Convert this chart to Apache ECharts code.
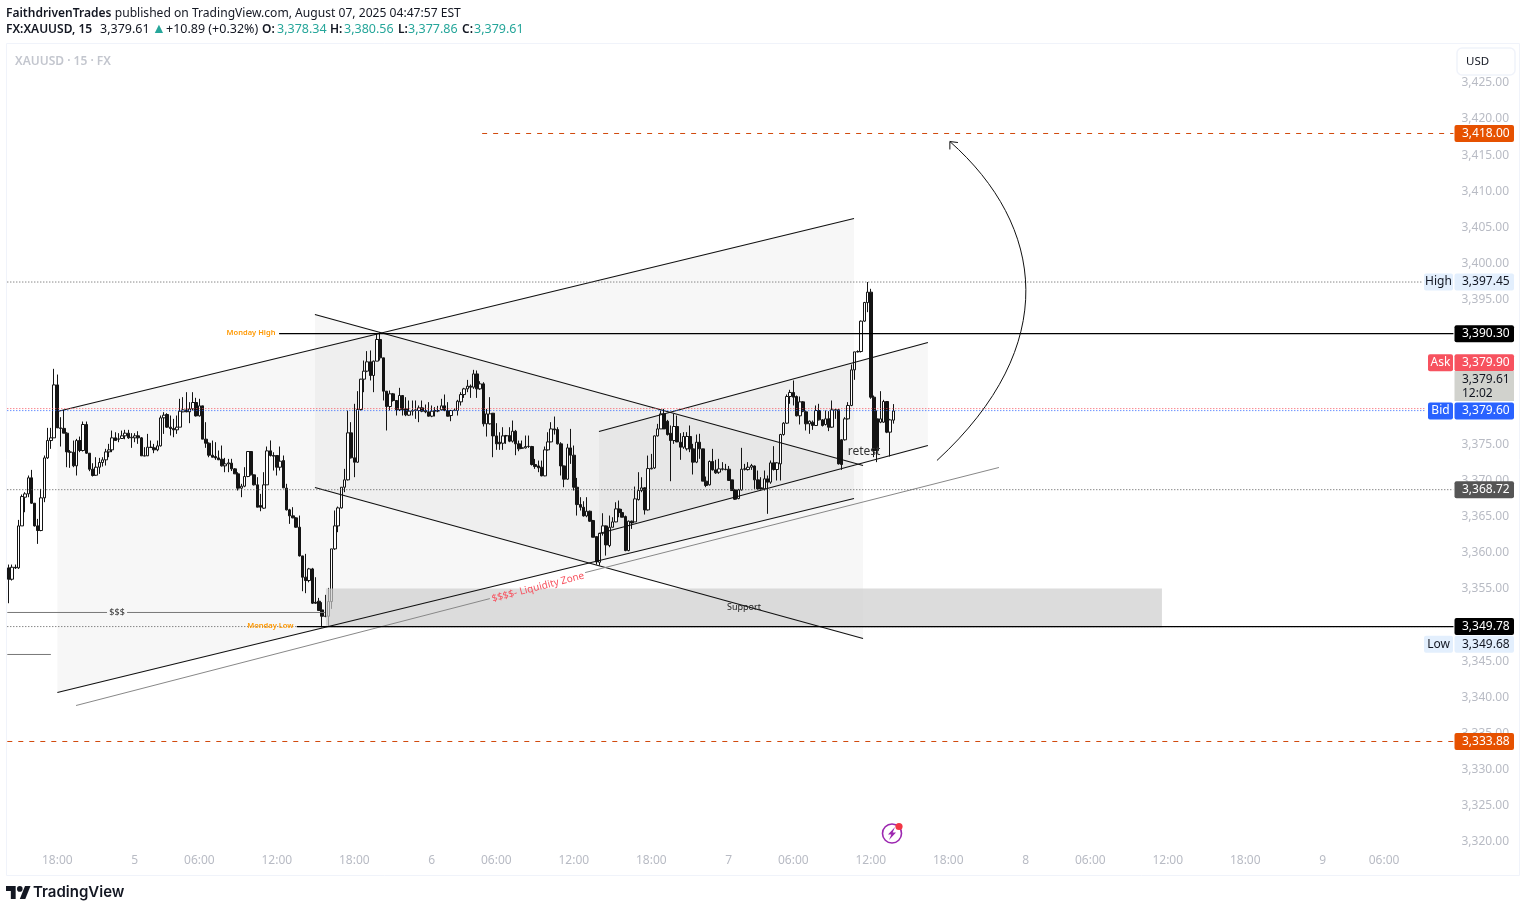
<!DOCTYPE html>
<html><head><meta charset="utf-8">
<style>html,body{margin:0;padding:0;background:#fff}#c{width:1526px;height:911px}</style>
<script src="https://cdn.jsdelivr.net/npm/echarts@6/dist/echarts.min.js"></script>
</head><body><div id="c"></div>
<script>
// 15-minute XAUUSD candles: [open, close, low, high]
const candles=[
[3357.90,3356.33,3353.01,3358.36],[3356.33,3357.99,3356.15,3358.36],[3357.99,3357.90,3357.76,3358.36],[3357.90,3363.71,3357.76,3364.54],[3363.71,3367.77,3363.71,3368.05],
[3367.68,3368.14,3365.60,3368.37],[3368.14,3370.36,3367.68,3370.68],[3370.36,3366.85,3366.76,3371.46],[3366.85,3363.71,3363.62,3366.85],[3363.71,3363.07,3361.22,3364.68],
[3363.07,3367.59,3362.97,3368.83],[3367.59,3373.12,3366.99,3373.45],[3373.12,3375.52,3372.98,3377.27],[3375.52,3375.89,3374.37,3377.27],[3375.89,3383.22,3375.89,3385.44],
[3383.22,3377.27,3377.27,3384.65],[3377.27,3377.20,3374.69,3378.75],[3377.20,3376.54,3376.54,3379.76],[3376.54,3373.95,3371.83,3376.67],[3373.95,3373.90,3371.74,3374.20],
[3373.90,3372.02,3371.83,3375.52],[3372.02,3375.52,3370.68,3375.75],[3375.52,3374.14,3373.91,3376.07],[3374.14,3377.74,3374.00,3378.15],[3377.74,3373.77,3373.68,3378.15],
[3373.77,3371.55,3371.28,3373.77],[3371.55,3370.68,3370.54,3372.38],[3370.72,3371.83,3370.63,3373.21],[3371.83,3372.48,3370.91,3373.12],[3372.48,3372.85,3371.92,3373.21],
[3372.85,3373.95,3372.06,3374.37],[3373.95,3374.23,3373.21,3375.06],[3374.23,3375.89,3373.91,3376.90],[3375.89,3375.52,3375.52,3376.67],[3375.70,3375.75,3375.29,3376.54],
[3375.80,3376.17,3375.75,3376.90],[3376.17,3376.54,3375.70,3377.00],[3376.54,3375.89,3375.75,3377.00],[3375.89,3375.98,3374.51,3376.54],[3375.89,3376.17,3375.29,3376.54],
[3376.17,3375.89,3375.06,3376.81],[3375.89,3373.40,3373.40,3376.00],[3373.40,3373.38,3373.38,3374.60],[3373.40,3374.60,3373.38,3376.44],[3374.60,3374.55,3374.51,3375.52],
[3374.51,3374.23,3373.77,3375.06],[3374.23,3374.78,3374.04,3375.52],[3374.78,3378.66,3374.69,3378.98],[3378.66,3379.03,3376.44,3379.44],[3379.12,3377.37,3377.27,3379.30],
[3377.37,3377.18,3376.21,3378.98],[3377.18,3377.00,3375.98,3378.52],[3377.00,3377.37,3376.44,3378.98],[3377.37,3379.58,3377.37,3381.29],[3379.49,3379.76,3379.44,3381.52],
[3379.76,3379.49,3379.44,3382.21],[3379.49,3379.90,3377.92,3380.83],[3379.90,3380.78,3379.67,3382.21],[3380.78,3378.93,3378.84,3381.43],[3378.93,3380.32,3378.84,3381.29],
[3380.32,3375.71,3375.71,3380.32],[3375.71,3375.15,3374.51,3378.06],[3375.15,3373.49,3373.21,3375.26],[3373.49,3373.21,3373.21,3375.52],[3373.30,3373.12,3372.85,3375.29],
[3373.12,3372.85,3372.85,3374.14],[3372.94,3372.02,3371.92,3374.83],[3372.02,3372.29,3371.14,3373.12],[3372.29,3372.43,3371.14,3372.98],[3372.39,3371.60,3371.30,3372.99],
[3371.60,3370.91,3370.91,3371.70],[3370.91,3368.93,3368.60,3371.14],[3368.93,3369.20,3367.68,3369.53],[3369.20,3370.54,3369.06,3371.83],[3370.54,3374.00,3370.45,3374.05],
[3374.00,3370.77,3370.68,3374.05],[3370.77,3369.39,3369.30,3370.82],[3369.39,3366.30,3366.30,3370.45],[3366.53,3366.30,3365.74,3368.14],[3366.16,3369.39,3366.07,3371.14],
[3369.39,3374.09,3369.39,3374.69],[3374.09,3373.45,3373.31,3375.53],[3373.45,3373.36,3371.37,3373.90],[3373.45,3371.83,3370.68,3373.45],[3371.83,3372.66,3371.37,3374.69],
[3372.75,3368.97,3368.93,3373.45],[3368.93,3365.93,3365.84,3369.53],[3365.93,3365.10,3363.99,3366.07],[3365.10,3364.82,3364.77,3366.30],[3364.82,3363.53,3363.44,3364.91],
[3363.53,3359.56,3359.47,3365.14],[3359.56,3356.61,3354.67,3359.56],[3356.61,3356.15,3354.40,3359.84],[3356.15,3357.76,3355.90,3357.90],[3357.76,3353.01,3352.92,3357.90],
[3353.15,3353.01,3352.92,3356.61],[3353.29,3352.00,3352.00,3353.75],[3352.09,3351.21,3349.68,3353.15],[3351.21,3351.20,3351.07,3354.17],[3351.21,3353.24,3349.78,3355.13],
[3353.24,3360.53,3352.23,3360.53],[3360.53,3363.71,3360.39,3365.84],[3363.71,3366.20,3362.84,3366.39],[3366.20,3369.06,3366.10,3369.06],[3369.06,3370.08,3368.37,3371.60],
[3370.08,3376.58,3369.99,3379.67],[3376.58,3373.13,3373.03,3378.06],[3373.13,3372.52,3370.45,3380.60],[3372.52,3379.81,3372.43,3382.35],[3379.81,3384.01,3379.67,3384.06],
[3384.01,3385.12,3382.21,3386.59],[3385.12,3386.41,3384.98,3387.89],[3386.41,3384.52,3383.83,3387.98],[3384.52,3386.50,3382.21,3386.59],[3386.50,3389.50,3386.50,3390.28],
[3389.50,3386.96,3386.59,3390.50],[3386.96,3382.35,3381.06,3386.96],[3382.35,3380.23,3376.91,3382.35],[3380.23,3381.98,3379.67,3382.44],[3381.98,3381.06,3380.90,3382.10],
[3381.06,3379.77,3378.98,3381.06],[3379.77,3381.75,3379.60,3382.81],[3381.75,3379.77,3378.98,3381.75],[3379.90,3379.08,3378.89,3381.52],[3379.03,3379.58,3378.94,3381.06],
[3379.58,3379.67,3378.98,3381.06],[3379.67,3379.77,3378.52,3381.06],[3379.67,3380.04,3378.06,3380.37],[3380.04,3379.58,3379.44,3381.06],[3379.67,3379.49,3379.30,3380.50],
[3379.49,3378.89,3378.85,3380.83],[3378.89,3379.58,3378.75,3380.37],[3379.60,3379.67,3378.85,3380.14],[3379.67,3379.60,3379.44,3380.32],[3379.77,3380.32,3379.67,3381.29],
[3380.32,3379.67,3379.58,3381.89],[3379.67,3378.89,3378.85,3380.83],[3378.98,3379.67,3378.19,3379.76],[3379.67,3379.72,3379.60,3380.00],[3379.67,3380.96,3378.98,3381.15],
[3380.87,3381.88,3380.36,3382.21],[3381.88,3382.67,3381.42,3382.81],[3382.67,3383.04,3382.21,3383.91],[3383.04,3382.90,3381.42,3383.27],[3382.90,3384.74,3382.67,3385.30],
[3384.74,3382.67,3381.42,3385.21],[3382.67,3383.36,3382.53,3383.73],[3383.36,3377.83,3377.46,3383.59],[3377.83,3379.21,3376.07,3379.90],[3377.83,3379.21,3377.73,3381.52],
[3379.30,3376.16,3373.21,3379.30],[3376.16,3375.06,3374.23,3377.92],[3375.29,3375.06,3374.23,3376.67],[3375.15,3376.16,3374.23,3377.36],[3376.16,3376.20,3375.06,3376.30],
[3376.20,3375.43,3375.29,3377.36],[3375.43,3376.81,3375.24,3378.29],[3376.81,3375.06,3373.49,3376.99],[3375.06,3374.37,3374.04,3375.52],[3374.51,3374.46,3374.37,3375.52],
[3374.50,3374.69,3374.41,3376.21],[3374.69,3374.72,3374.50,3376.21],[3374.69,3372.20,3372.06,3374.78],[3372.20,3371.92,3371.60,3372.98],[3372.01,3371.74,3371.14,3372.75],
[3371.83,3370.63,3370.58,3372.75],[3370.63,3374.23,3370.58,3374.69],[3374.23,3375.33,3374.13,3376.67],[3375.33,3377.13,3375.29,3378.06],[3377.13,3377.00,3376.35,3378.84],
[3377.04,3375.06,3374.97,3377.36],[3375.06,3372.01,3370.68,3375.29],[3372.01,3370.17,3369.06,3372.06],[3370.17,3374.50,3370.08,3375.06],[3374.50,3373.49,3372.29,3377.13],
[3373.49,3369.06,3368.60,3374.83],[3369.06,3366.66,3365.14,3370.35],[3366.66,3366.29,3365.83,3367.68],[3366.29,3365.09,3365.00,3367.12],[3365.09,3365.74,3364.91,3367.68],
[3365.74,3364.36,3364.26,3365.83],[3364.45,3362.14,3362.14,3364.54],[3362.23,3358.73,3358.36,3362.23],[3358.68,3362.69,3358.22,3362.69],[3362.69,3363.71,3362.37,3365.46],
[3363.71,3361.08,3359.60,3363.76],[3360.99,3363.52,3360.76,3365.14],[3363.52,3364.26,3363.52,3364.91],[3364.26,3366.06,3364.22,3366.98],[3366.06,3365.55,3364.91,3367.22],
[3365.55,3364.91,3364.91,3366.06],[3365.00,3360.30,3360.20,3365.14],[3360.30,3364.36,3360.20,3364.45],[3364.36,3364.12,3363.29,3364.45],[3364.26,3367.45,3364.26,3369.15],
[3367.35,3368.60,3367.22,3371.14],[3368.60,3368.97,3368.37,3370.44],[3368.97,3365.92,3365.28,3369.06],[3365.92,3371.64,3365.83,3373.44],[3371.60,3371.70,3371.55,3373.67],
[3371.73,3376.16,3371.60,3376.20],[3376.16,3377.13,3376.07,3377.83],[3377.13,3379.21,3377.13,3379.67],[3379.21,3377.13,3377.13,3379.90],[3378.19,3376.35,3376.21,3378.38],
[3376.53,3375.52,3369.89,3377.60],[3375.52,3377.46,3375.06,3379.21],[3377.46,3375.33,3375.29,3378.98],[3375.29,3374.60,3372.85,3376.54],[3374.60,3376.08,3374.37,3376.68],
[3374.37,3376.08,3374.14,3376.68],[3376.08,3374.37,3373.91,3377.60],[3374.37,3372.53,3370.82,3375.06],[3372.53,3375.29,3372.39,3376.35],[3375.29,3374.37,3372.99,3376.45],
[3374.37,3369.90,3369.90,3374.37],[3369.90,3369.30,3369.07,3370.54],[3369.39,3372.62,3369.30,3372.76],[3372.62,3371.46,3371.37,3374.37],[3371.46,3371.05,3370.91,3372.85],
[3371.14,3371.60,3370.91,3372.99],[3371.60,3371.55,3371.37,3372.53],[3371.55,3371.50,3371.40,3372.29],[3371.55,3370.00,3369.99,3372.00],[3370.08,3368.60,3368.60,3370.08],
[3368.69,3367.40,3367.31,3368.83],[3367.49,3368.69,3367.40,3368.83],[3368.69,3371.55,3368.60,3374.51],[3371.55,3371.60,3371.37,3372.29],[3371.50,3371.83,3371.37,3372.53],
[3371.83,3372.06,3371.46,3372.29],[3372.00,3370.08,3368.83,3372.06],[3370.08,3368.83,3368.69,3371.37],[3368.97,3368.83,3368.60,3370.45],[3368.83,3370.22,3368.60,3371.37],
[3370.22,3369.76,3365.38,3370.68],[3369.76,3372.43,3369.53,3372.76],[3372.43,3371.51,3371.37,3374.74],[3371.51,3372.43,3369.99,3372.53],[3372.29,3376.35,3369.99,3376.45],
[3376.35,3377.92,3376.20,3378.06],[3377.92,3381.61,3377.83,3381.89],[3381.61,3382.17,3380.60,3382.54],[3382.17,3381.52,3380.37,3383.83],[3381.61,3378.94,3378.85,3381.75],
[3378.94,3380.87,3377.74,3381.61],[3380.87,3379.58,3379.44,3380.97],[3379.49,3377.83,3376.91,3379.68],[3377.83,3378.20,3376.45,3378.29],[3378.06,3377.60,3377.00,3378.29],
[3377.60,3379.67,3377.55,3380.37],[3379.67,3378.38,3378.29,3380.60],[3378.38,3377.60,3377.46,3378.48],[3377.74,3378.52,3377.60,3379.68],[3378.52,3377.37,3376.82,3379.58],
[3377.37,3379.77,3377.28,3381.06],[3379.77,3379.72,3378.52,3379.90],[3379.77,3372.29,3372.20,3379.86],[3375.62,3372.20,3371.46,3375.70],[3375.62,3378.52,3375.52,3378.75],
[3378.52,3380.37,3378.43,3380.83],[3380.37,3385.30,3380.27,3386.04],[3385.30,3387.79,3383.92,3387.79],[3387.79,3387.84,3387.70,3388.00],[3387.84,3392.04,3387.70,3392.13],
[3392.04,3394.62,3391.95,3394.70],[3394.60,3396.05,3393.28,3397.45],[3396.05,3381.52,3381.29,3396.51],[3381.52,3374.14,3373.22,3381.75],[3378.52,3374.14,3372.53,3379.68],
[3378.06,3378.52,3377.92,3382.35],[3378.06,3380.92,3377.97,3381.15],[3380.92,3376.68,3376.54,3380.97],[3376.68,3378.38,3373.31,3378.52],[3378.34,3379.61,3377.86,3380.56]
];
const barSlots = 448;                     // bars that fit the pane, including empty future bars
const tickBars = [15,39,59,83,107,131,151,175,199,223,243,267,291,315,335,359,383,407,426];
const tickLabels = ['18:00','5','06:00','12:00','18:00','6','06:00','12:00','18:00','7','06:00','12:00','18:00','8','06:00','12:00','18:00','9','06:00'];
const priceMin = 3315, priceMax = 3430, priceStep = 5;

// drawings in chart coordinates: [bar index, price]
const bigChannelTop    = [[15,3379.54],[261.8,3406.24]];
const bigChannelBottom = [[15,3340.66],[261.8,3367.50]];
const fallChannelTop   = [[94.8,3392.96],[264.6,3372.07]];
const fallChannelBottom= [[94.8,3369.02],[264.6,3348.13]];
const riseChannelTop   = [[182.8,3376.77],[284.7,3389.08]];
const riseChannelBottom= [[182.8,3362.66],[284.7,3374.83]];
const trendLow1 = [[20.8,3338.86],[149,3353.65]];
const trendLow2 = [[178.5,3357.25],[306.7,3371.79]];
const supportBox = [[98.2,3355.05],[357.2,3349.65]];
const moneyLineA = [[-0.5,3351.73],[30.4,3351.73]];
const moneyLineB = [[36.6,3351.73],[97.9,3351.73]];
const shortLine  = [[-0.5,3345.92],[13,3345.92]];
const mondayHigh = [[83.7,3390.30],[447.5,3390.30]];
const mondayLow  = [[89.2,3349.78],[447.5,3349.78]];
const sessionHigh= [[-0.5,3397.45],[437.8,3397.45]];
const askLine    = [[-0.5,3379.94],[439,3379.94]];
const bidLine    = [[-0.5,3379.66],[439,3379.66]];
const prevClose  = [[-0.5,3368.72],[447.5,3368.72]];
const lowDotted  = [[-0.5,3349.78],[447.5,3349.78]];
const targetUp   = [[146.6,3418.00],[447.5,3418.00]];
const targetDown = [[-0.5,3333.88],[447.5,3333.88]];
const arrowCurve = [[287.5,3372.76],[326.2,3388.67],[320.9,3405.27],[291.5,3416.89]];
const arrowHead  = [[294,3416.75],[291.5,3416.89],[291.5,3415.79]];
const noteTexts = ['$$$','Monday High','Monday Low','Support','retest','$$$$- Liquidity Zone'];
const notePlaces= [[33.5,3351.73],[75,3390.47],[81,3349.93],[227.7,3352.42],[264.9,3374.0],[163.9,3355.2]];
const tagTexts  = ['3,418.00','3,390.30','3,379.90','3,379.60','3,368.72','3,349.78','3,349.68','3,397.45','3,333.88'];
const tagPrices = [3418.00,3390.30,3379.90,3379.60,3368.72,3349.78,3349.68,3397.45,3333.88];
const tagNames  = ['','','Ask','Bid','','','Low','High',''];
const quoteTexts = ['FX:XAUUSD, 15','3,379.61','▲','+10.89 (+0.32%)','O:','3,378.34','H:','3,380.56','L:','3,377.86','C:','3,379.61'];

const FONT='"Noto Sans",sans-serif';
const FILL='rgba(0,0,0,0.032)';
const tagStyle=[
 {bg:'#e65100',fg:'#fff',dy:0},{bg:'#000',fg:'#fff',dy:0},{bg:'#f7525f',fg:'#fff',dy:-46},{bg:'#2962ff',fg:'#fff',dy:0},
 {bg:'#555',fg:'#fff',dy:0},{bg:'#000',fg:'#fff',dy:0},{bg:'#e3effd',fg:'#131722',dy:17},{bg:'#e3effd',fg:'#131722',dy:0},{bg:'#e65100',fg:'#fff',dy:0}];
const noteStyle=[
 {size:9,color:'#333'},{size:7.5,color:'#ff9800',weight:600},{size:7.5,color:'#ff9800',weight:600},
 {size:9,color:'#222'},{size:12,color:'#333'},{size:10,color:'#f7525f',rot:0.253}];
const quoteX=[6,100,152,166,262,277,330,344,398,408,462,474];
const quoteFont=['600 12px','12.5px','14px','12.5px','600 12px','12.5px','600 12px','12.5px','600 12px','12.5px','600 12px','12.5px'];
const quoteFill=['#131722','#131722','#26a69a','#131722','#131722','#26a69a','#131722','#26a69a','#131722','#26a69a','#131722','#26a69a'];

const line=(data,color,type,width,z)=>({type:'line',xAxisIndex:1,yAxisIndex:0,data,symbol:'none',silent:true,animation:false,z:z||5,
  lineStyle:{color,type:type||'solid',width:width||1}});
const poly=[[bigChannelTop,bigChannelBottom],[fallChannelTop,fallChannelBottom],[riseChannelTop,riseChannelBottom]];
const ROW=i=>[i];

const cats=Array.from({length:barSlots},(_,i)=>String(i));
const option={
 animation:false,backgroundColor:'#fff',
 grid:{left:7.3,top:46.76,width:1446.14,height:831.2,containLabel:false},
 xAxis:[
  {type:'category',data:cats,boundaryGap:true,axisLine:{show:false},axisTick:{show:false},splitLine:{show:false},
   axisLabel:{inside:true,margin:11,color:'#b8bbc4',fontSize:12,fontFamily:FONT,hideOverlap:false,
     interval:(i)=>tickBars.includes(i),
     formatter:(v)=>{const k=tickBars.indexOf(+v);return k>=0?tickLabels[k]:'';}}},
  {type:'value',min:-0.5,max:barSlots-0.5,show:false}
 ],
 yAxis:[{type:'value',min:priceMin,max:priceMax,interval:priceStep,position:'right',scale:true,
   axisLine:{show:false},axisTick:{show:false},splitLine:{show:false},
   axisLabel:{margin:8,padding:[0,0,1,0],color:'#b8bbc4',fontSize:12,fontFamily:FONT,
     formatter:v=>(v<3320||v>3425)?'':v.toLocaleString('en-US',{minimumFractionDigits:2,maximumFractionDigits:2})}}],
 series:[
  {type:'custom',xAxisIndex:1,yAxisIndex:0,z:1,silent:true,animation:false,data:poly.map((_,i)=>ROW(i)),
   renderItem:(p,api)=>{const [a,b]=poly[p.dataIndex];
     const pts=[a[0],a[1],b[1],b[0]].map(q=>api.coord(q));
     return {type:'polygon',shape:{points:pts},style:{fill:FILL}};}},
  {type:'candlestick',xAxisIndex:0,yAxisIndex:0,data:candles,barWidth:3,z:2,silent:true,animation:false,progressive:0,
   itemStyle:{color:'#ffffff',color0:'#141414',borderColor:'#141414',borderColor0:'#141414',borderWidth:1}},
  {type:'custom',xAxisIndex:1,yAxisIndex:0,z:3,silent:true,animation:false,data:[ROW(0)],
   renderItem:(p,api)=>{const a=api.coord(supportBox[0]),b=api.coord(supportBox[1]);
     return {type:'rect',shape:{x:a[0],y:a[1],width:b[0]-a[0],height:b[1]-a[1]},style:{fill:'rgba(205,205,205,0.7)'}};}},
  line(bigChannelTop,'#111',null,1.2),line(bigChannelBottom,'#111',null,1.2),
  line(fallChannelTop,'#111',null,1.2),line(fallChannelBottom,'#111',null,1.2),
  line(riseChannelTop,'#111',null,1.2),line(riseChannelBottom,'#111',null,1.2),
  line(trendLow1,'#888'),line(trendLow2,'#888'),
  line(moneyLineA,'#787878'),line(moneyLineB,'#787878'),line(shortLine,'#787878'),
  line(sessionHigh,'#555',[1,2]),line(askLine,'#f7525f',[1,2]),line(bidLine,'#2962ff',[1,2]),
  line(prevClose,'#555',[1,2]),line(lowDotted,'#555',[1,2]),
  line(mondayHigh,'#000',null,1.3),line(mondayLow,'#000',null,1.3),
  line(targetUp,'#d1490c',[5,6]),line(targetDown,'#d1490c',[5,6]),
  line(arrowHead,'#111'),
  {type:'custom',xAxisIndex:1,yAxisIndex:0,z:6,silent:true,animation:false,data:[ROW(0)],
   renderItem:(p,api)=>{const c=arrowCurve.map(q=>api.coord(q));
     return {type:'bezierCurve',shape:{x1:c[0][0],y1:c[0][1],cpx1:c[1][0],cpy1:c[1][1],cpx2:c[2][0],cpy2:c[2][1],x2:c[3][0],y2:c[3][1]},
       style:{stroke:'#111',fill:'none',lineWidth:1}};}},
  {type:'custom',xAxisIndex:1,yAxisIndex:0,z:7,silent:true,animation:false,data:noteTexts.map((_,i)=>ROW(i)),
   renderItem:(p,api)=>{const i=p.dataIndex,s=noteStyle[i],c=api.coord(notePlaces[i]);
     return {type:'text',x:c[0],y:c[1],rotation:s.rot||0,
       style:{text:noteTexts[i],fill:s.color,font:(s.weight||400)+' '+s.size+'px '+FONT,align:'center',verticalAlign:'middle'}};}},
  {type:'custom',xAxisIndex:1,yAxisIndex:0,z:9,silent:true,animation:false,clip:false,data:tagTexts.map((_,i)=>ROW(i)),
   renderItem:(p,api)=>{const i=p.dataIndex,s=tagStyle[i],y=api.coord([0,tagPrices[i]])[1]+s.dy,kids=[];
     const X=1454.5,H=17;
     kids.push({type:'rect',shape:{x:X,y:y-H/2,width:59.5,height:H,r:2},style:{fill:s.bg}});
     kids.push({type:'text',x:X+7.5,y:y,style:{text:tagTexts[i],fill:s.fg,font:'12px '+FONT,verticalAlign:'middle'}});
     if(tagNames[i]){const w=tagNames[i]==='Ask'||tagNames[i]==='Bid'?25:29;
       kids.push({type:'rect',shape:{x:X-w-1.5,y:y-H/2,width:w,height:H,r:2},style:{fill:s.bg}});
       kids.push({type:'text',x:X-w-1.5+w/2,y:y,style:{text:tagNames[i],fill:s.fg,font:'12px '+FONT,align:'center',verticalAlign:'middle'}});}
     return {type:'group',children:kids};}}
 ],
 graphic:[
  {type:'rect',z:0,silent:true,shape:{x:6.5,y:43.5,width:1513,height:832},style:{fill:'none',stroke:'#f0f3fa',lineWidth:1}},
  {type:'text',z:100,left:6,top:7.5,style:{text:'{b|FaithdrivenTrades} {n|published on TradingView.com, August 07, 2025 04:47:57 EST}',
    rich:{b:{font:'600 12px '+FONT,fill:'#131722'},n:{font:'12.1px '+FONT,fill:'#131722'}}}},
  ...quoteTexts.map((t,i)=>({type:'text',z:100,x:quoteX[i],y:29.5,style:{text:t,font:quoteFont[i]+' '+FONT,fill:quoteFill[i],verticalAlign:'middle'}})),
  {type:'text',z:100,x:15,y:61.5,style:{text:'XAUUSD · 15 · FX',font:'600 12px '+FONT,fill:'#c3c6ce',verticalAlign:'middle'}},
  {type:'rect',z:100,shape:{x:1457,y:48,width:58,height:27,r:5},style:{fill:'#fff',stroke:'#f0f3fa',lineWidth:1.5}},
  {type:'text',z:101,x:1466,y:62,style:{text:'USD',font:'11.5px '+FONT,fill:'#131722',verticalAlign:'middle'}},
  {type:'rect',z:100,shape:{x:1454.5,y:371,width:59.5,height:30},style:{fill:'#d1d2cd'}},
  {type:'text',z:101,x:1462,y:379.5,style:{text:'3,379.61',font:'12px '+FONT,fill:'#131722',verticalAlign:'middle'}},
  {type:'text',z:101,x:1462,y:393.5,style:{text:'12:02',font:'12px '+FONT,fill:'#131722',verticalAlign:'middle'}},
  {type:'circle',z:100,shape:{cx:892,cy:833.5,r:9.5},style:{fill:'none',stroke:'#9c27b0',lineWidth:1.6}},
  {type:'polygon',z:100,shape:{points:[[895,827],[888,834.5],[891.3,834.5],[889,840],[896,832.5],[892.7,832.5]]},style:{fill:'#9c27b0'}},
  {type:'circle',z:101,shape:{cx:899,cy:826.5,r:3.6},style:{fill:'#f23645'}},
  {type:'polygon',z:100,shape:{points:[[6,886],[15.66,886],[15.66,899],[10.83,899],[10.83,891],[6,891]]},style:{fill:'#131722'}},
  {type:'polygon',z:100,shape:{points:[[25,886],[30.5,886],[25.3,899],[19.8,899]]},style:{fill:'#131722'}},
  {type:'circle',z:100,shape:{cx:19.8,cy:888.9,r:2.8},style:{fill:'#131722'}},
  {type:'text',z:100,x:33,y:892.5,style:{text:'TradingView',font:'600 15px Inter,'+FONT,fill:'#131722',verticalAlign:'middle'}}
 ]
};
const chart=echarts.init(document.getElementById('c'),null,{renderer:'canvas',width:1526,height:911});
chart.setOption(option);
</script></body></html>
